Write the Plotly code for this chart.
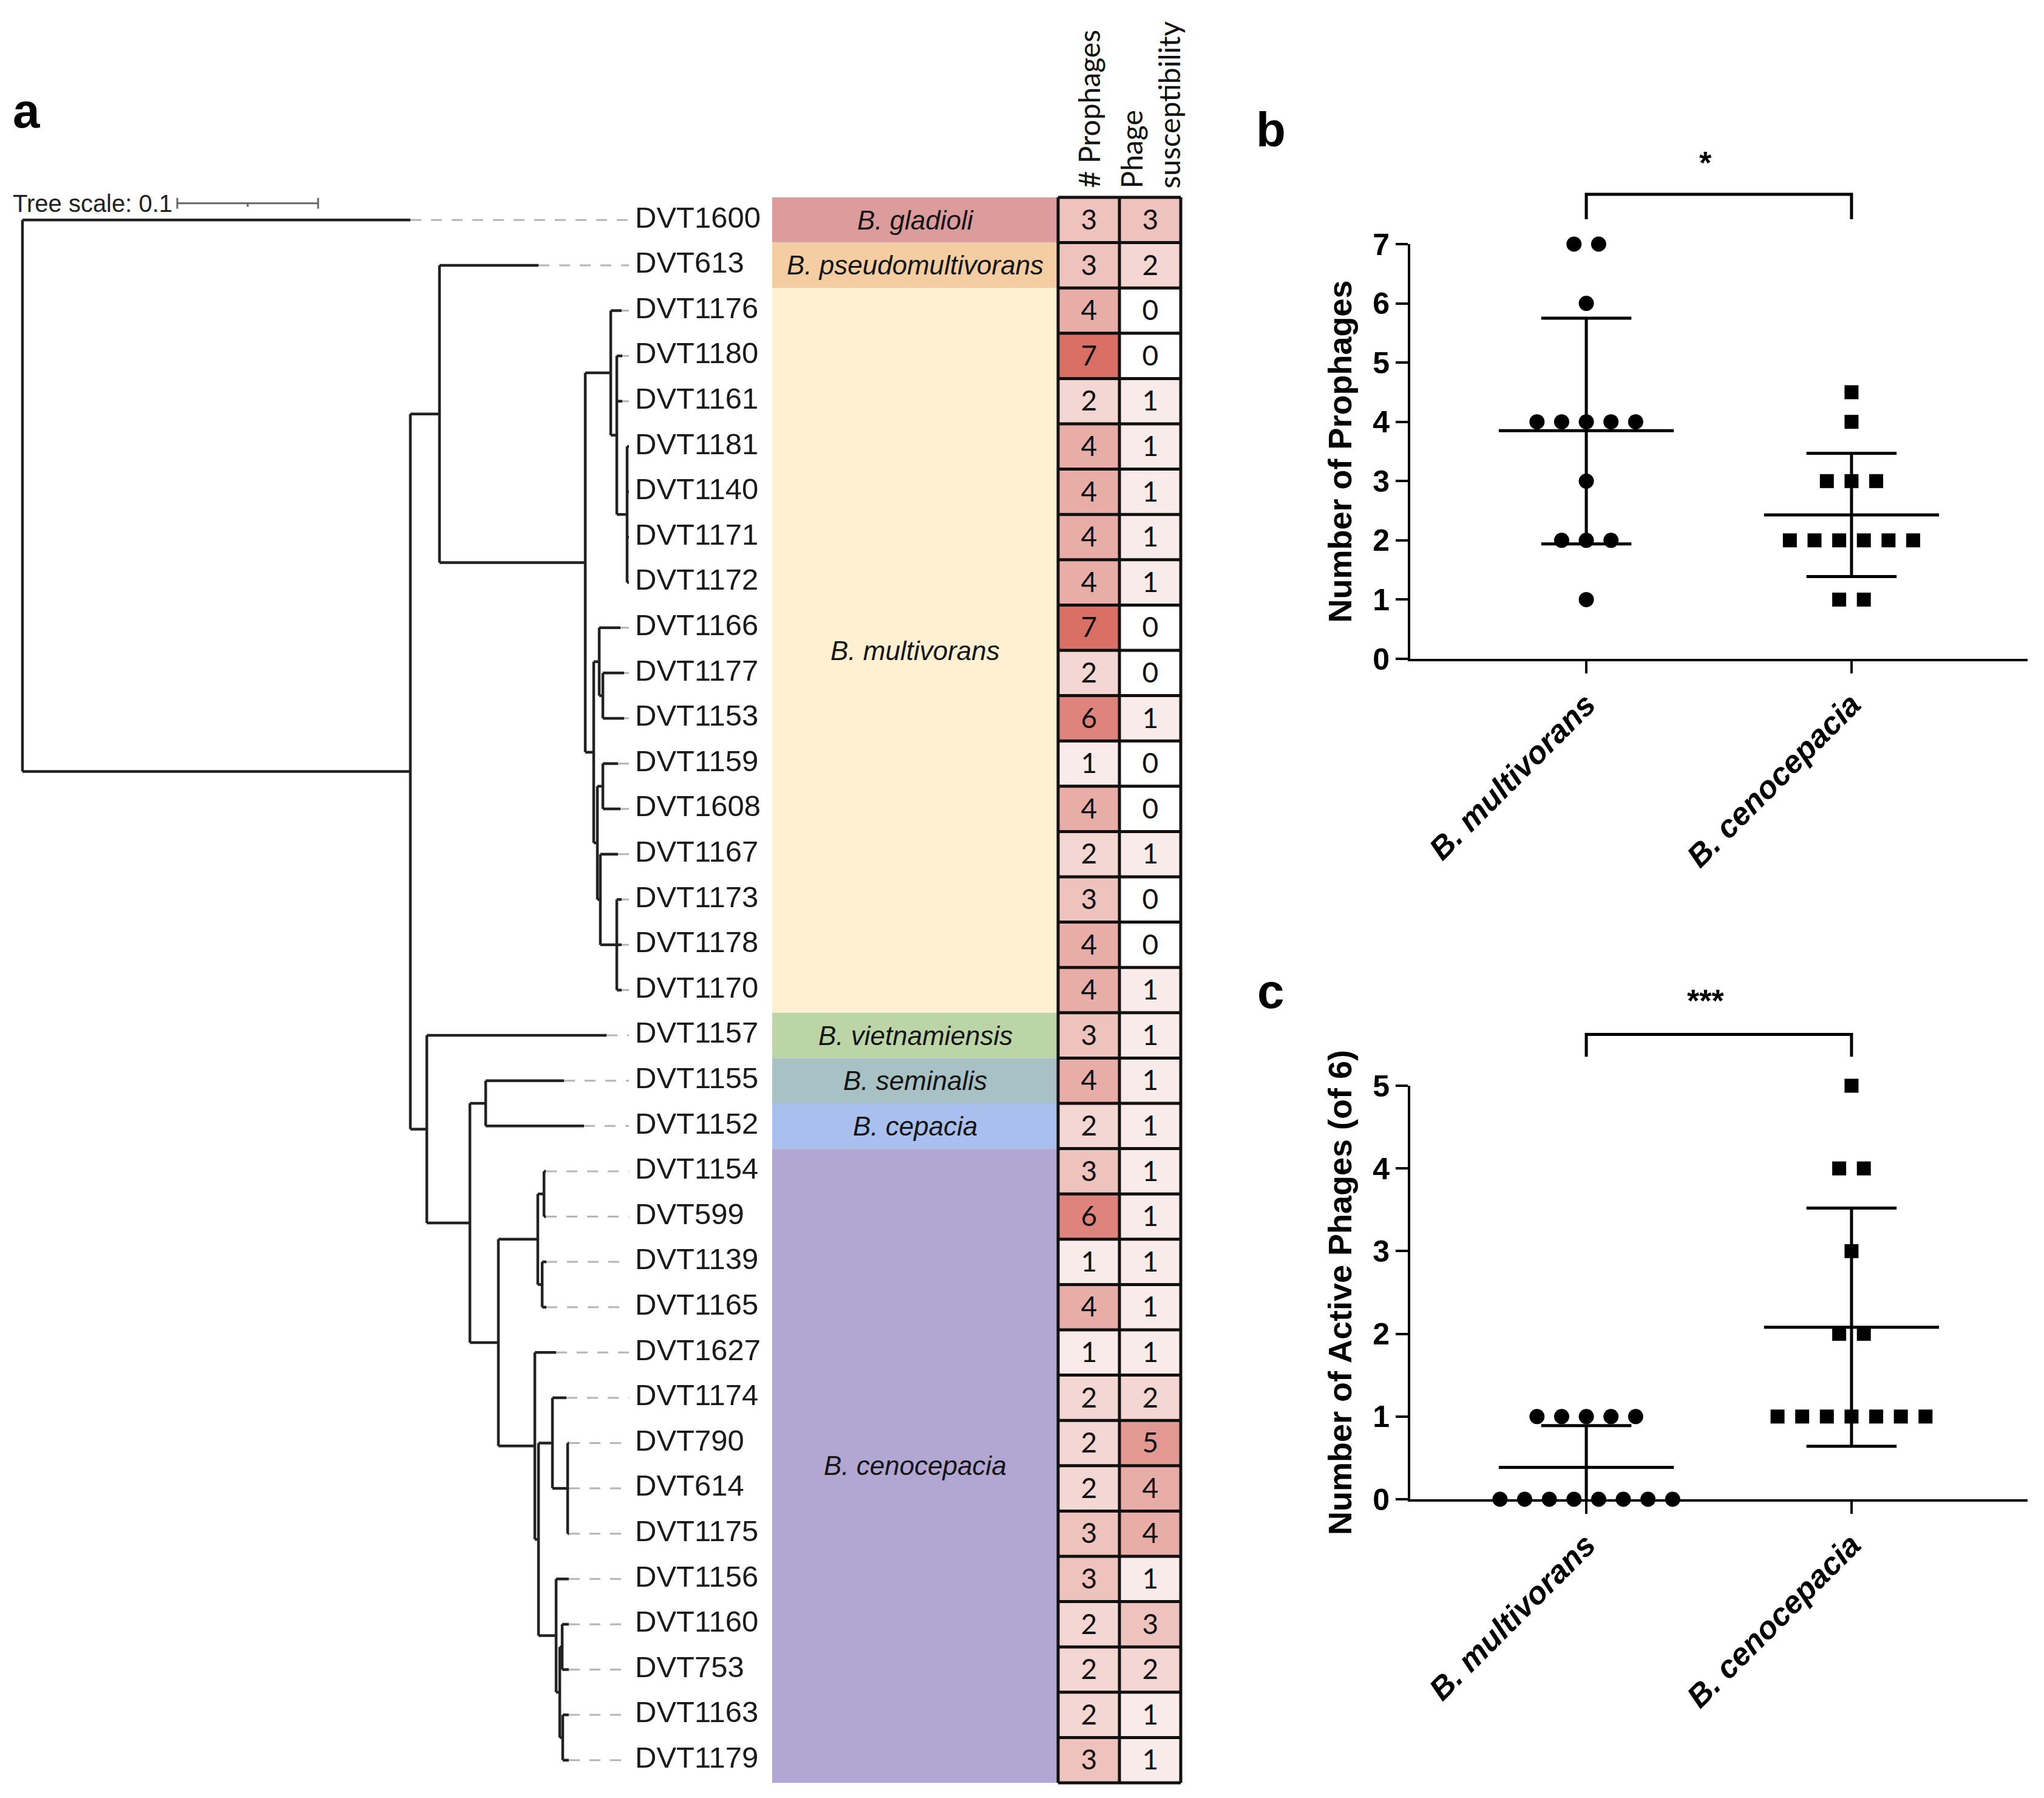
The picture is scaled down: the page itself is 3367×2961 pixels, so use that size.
import plotly.graph_objects as go

W, H = 3367, 2961

# ---------------- Panel a data ----------------
STRAINS = ["DVT1600", "DVT613", "DVT1176", "DVT1180", "DVT1161", "DVT1181", "DVT1140",
           "DVT1171", "DVT1172", "DVT1166", "DVT1177", "DVT1153", "DVT1159", "DVT1608",
           "DVT1167", "DVT1173", "DVT1178", "DVT1170", "DVT1157", "DVT1155", "DVT1152",
           "DVT1154", "DVT599", "DVT1139", "DVT1165", "DVT1627", "DVT1174", "DVT790",
           "DVT614", "DVT1175", "DVT1156", "DVT1160", "DVT753", "DVT1163", "DVT1179"]
PROPHAGES = [3, 3, 4, 7, 2, 4, 4, 4, 4, 7, 2, 6, 1, 4, 2, 3, 4, 4, 3, 4, 2,
             3, 6, 1, 4, 1, 2, 2, 2, 3, 3, 2, 2, 2, 3]
SUSCEPTIBILITY = [3, 2, 0, 0, 1, 1, 1, 1, 1, 0, 0, 1, 0, 0, 1, 0, 0, 1, 1, 1, 1,
                  1, 1, 1, 1, 1, 2, 5, 4, 4, 1, 3, 2, 1, 1]
SPECIES = ["B. gladioli", "B. pseudomultivorans", "B. multivorans", "B. vietnamiensis",
           "B. seminalis", "B. cepacia", "B. cenocepacia"]
SPECIES_SIZES = [1, 1, 16, 1, 1, 1, 14]
SPECIES_COLORS = ["#dc9c9c", "#f4cda2", "#fef0d1", "#bbd5a7", "#a7c1c4", "#a9c0ee", "#b1a7d2"]
HEAT_COLUMNS = ["# Prophages", "Phage<br>susceptibility"]
TREE_SCALE = 0.1
NEWICK = (
    "(DVT1600:0.2754,"
    "("
    "(DVT613:0.0703,"
    "("
    "(DVT1176:0.0077,(DVT1180:0.0039,DVT1161:0.0039,(DVT1181:0.0013,DVT1140:0.0013,"
    "DVT1171:0.0013,DVT1172:0.0013):0.0073):0.0043):0.0181,"
    "((DVT1166:0.0151,(DVT1177:0.0151,DVT1153:0.0151):0.0026):0.0039,"
    "((DVT1159:0.0107,DVT1608:0.0125):0.0039,(DVT1167:0.0125,(DVT1173:0.0034,"
    "DVT1178:0.0034,DVT1170:0.0034):0.0117):0.0021):0.0026):0.0060"
    "):0.1035"
    "):0.0207,"
    "(DVT1157:0.1276,"
    "((DVT1155:0.0556,DVT1152:0.0698):0.0112,"
    "("
    "((DVT1154:0.0013,DVT599:0.0013):0.0044,(DVT1139:0.0030,DVT1165:0.0030):0.0031):0.0280,"
    "(DVT1627:0.0151,((DVT1174:0.0099,(DVT790:0.0008,DVT614:0.0008,DVT1175:0.0008):0.0108):0.0099,"
    "(DVT1156:0.0090,((DVT1160:0.0047,DVT753:0.0047):0.0017,(DVT1163:0.0043,"
    "DVT1179:0.0043):0.0021):0.0026):0.0125):0.0026):0.0259"
    "):0.0202"
    "):0.0306"
    "):0.0117"
    "):0.2754);"
)

# ---------------- Panels b / c data ----------------
GROUPS = ["B. multivorans", "B. cenocepacia"]
PROPH_MULTI = [7, 7, 6, 4, 4, 4, 4, 4, 3, 2, 2, 2, 1]
PROPH_CENO = [4.5, 4, 3, 3, 3, 2, 2, 2, 2, 2, 2, 1, 1]
PROPH_MEAN = [3.85, 2.43]
PROPH_SD_LOW = [1.94, 1.39]
PROPH_SD_HIGH = [5.75, 3.47]
PROPH_BRACKET = [7.42, 7.84]
PROPH_SIG = "*"

ACTIVE_MULTI = [1, 1, 1, 1, 1, 0, 0, 0, 0, 0, 0, 0, 0]
ACTIVE_CENO = [5, 4, 4, 3, 2, 2, 1, 1, 1, 1, 1, 1, 1]
ACTIVE_MEAN = [0.385, 2.08]
ACTIVE_SD_LOW = [-0.12, 0.64]
ACTIVE_SD_HIGH = [0.89, 3.52]
ACTIVE_BRACKET = [5.35, 5.62]
ACTIVE_SIG = "***"

# ---------------- helpers ----------------
PAGE_OFFSET = 8  # default body margin of the html page


def px_x(p):
    return (p - PAGE_OFFSET) / W


def px_y(p):
    return 1 - (p - PAGE_OFFSET) / H


def parse_newick(s):
    pos = 0

    def node():
        nonlocal pos
        children = []
        name = ""
        if s[pos] == "(":
            pos += 1
            children.append(node())
            while s[pos] == ",":
                pos += 1
                children.append(node())
            assert s[pos] == ")"
            pos += 1
        else:
            start = pos
            while s[pos] not in ":,);":
                pos += 1
            name = s[start:pos]
        length = 0.0
        if s[pos] == ":":
            pos += 1
            start = pos
            while s[pos] not in ",);":
                pos += 1
            length = float(s[start:pos])
        return {"name": name, "len": length, "children": children}

    return node()


tree = parse_newick(NEWICK)
leaf_order = []


def layout(nd, depth):
    nd["x"] = depth + nd["len"]
    if not nd["children"]:
        nd["y"] = len(leaf_order)
        leaf_order.append(nd)
    else:
        for c in nd["children"]:
            layout(c, nd["x"])
        nd["y"] = (nd["children"][0]["y"] + nd["children"][-1]["y"]) / 2


layout(tree, 0.0)
assert [l["name"] for l in leaf_order] == STRAINS

bx, by = [], []


def branches(nd):
    if nd["children"]:
        ch = nd["children"]
        bx.extend([nd["x"], nd["x"], None])
        by.extend([ch[0]["y"], ch[-1]["y"], None])
        for c in ch:
            bx.extend([nd["x"], c["x"], None])
            by.extend([c["y"], c["y"], None])
            branches(c)


branches(tree)

# pixel geometry of panel a
TREE_LEFT_PX = PAGE_OFFSET
TREE_ROOT_PX = 37
TREE_PX_PER_UNIT = 2320
TREE_RIGHT_PX = 1272
STRIP_X0, STRIP_X1 = 1272, 1743
ROW_TOP, ROW_H = 325, 74.6
N = len(STRAINS)
ALIGN_DEPTH = (1036 - TREE_ROOT_PX) / TREE_PX_PER_UNIT
LABEL_DEPTH = (1046 - TREE_ROOT_PX) / TREE_PX_PER_UNIT
SCALE_START = (292 - TREE_ROOT_PX) / TREE_PX_PER_UNIT
SCALE_ROW = -0.37

lx, ly = [], []
for l in leaf_order:
    if l["x"] < ALIGN_DEPTH - 0.001:
        lx.extend([l["x"], ALIGN_DEPTH, None])
        ly.extend([l["y"], l["y"], None])

fig = go.Figure()

# tree
fig.add_trace(go.Scatter(x=lx, y=ly, mode="lines", xaxis="x", yaxis="y",
                         line=dict(color="#b5b5b5", width=3, dash="18px,16px"), hoverinfo="skip"))
fig.add_trace(go.Scatter(x=bx, y=by, mode="lines", xaxis="x", yaxis="y",
                         line=dict(color="#222222", width=4.5), hoverinfo="skip"))
fig.add_trace(go.Scatter(x=[LABEL_DEPTH] * N, y=[l["y"] for l in leaf_order],
                         text=STRAINS, mode="text", textposition="middle right",
                         textfont=dict(family="Liberation Sans", size=49, color="#1a1a1a"),
                         xaxis="x", yaxis="y", hoverinfo="skip", cliponaxis=False))
# tree scale bar
sx = [SCALE_START, SCALE_START + TREE_SCALE, None,
      SCALE_START, SCALE_START, None,
      SCALE_START + TREE_SCALE, SCALE_START + TREE_SCALE, None,
      SCALE_START + TREE_SCALE / 2, SCALE_START + TREE_SCALE / 2]
sy = [SCALE_ROW, SCALE_ROW, None,
      SCALE_ROW - 0.12, SCALE_ROW + 0.12, None,
      SCALE_ROW - 0.12, SCALE_ROW + 0.12, None,
      SCALE_ROW, SCALE_ROW + 0.08]
fig.add_trace(go.Scatter(x=sx, y=sy, mode="lines", xaxis="x", yaxis="y",
                         line=dict(color="#666666", width=3), hoverinfo="skip"))

# heatmap
fig.add_trace(go.Heatmap(
    z=[[p, s] for p, s in zip(PROPHAGES, SUSCEPTIBILITY)],
    x=[0, 1], y=list(range(N)), xaxis="x2", yaxis="y2",
    colorscale=[[0, "#ffffff"], [1, "#d87066"]], zmin=0, zmax=7, showscale=False,
    texttemplate="%{z}", textfont=dict(family="Lato", size=46, color="#111111"),
    hoverinfo="skip"))
gx, gy = [], []
for k in range(N + 1):
    gx.extend([-0.5, 1.5, None])
    gy.extend([k - 0.5, k - 0.5, None])
for c in range(3):
    gx.extend([c - 0.5, c - 0.5, None])
    gy.extend([-0.5, N - 0.5, None])
fig.add_trace(go.Scatter(x=gx, y=gy, mode="lines", xaxis="x2", yaxis="y2",
                         line=dict(color="#111111", width=5), hoverinfo="skip"))

shapes = []
annotations = []
start = 0
for name, size, col in zip(SPECIES, SPECIES_SIZES, SPECIES_COLORS):
    shapes.append(dict(type="rect", xref="paper", yref="y", x0=px_x(STRIP_X0), x1=px_x(STRIP_X1),
                       y0=start - 0.5, y1=start + size - 0.5, fillcolor=col,
                       line=dict(width=0), layer="below"))
    annotations.append(dict(xref="paper", yref="y", x=px_x((STRIP_X0 + STRIP_X1) / 2),
                            y=start + (size - 1) / 2, text="<i>%s</i>" % name, showarrow=False,
                            xanchor="center", yanchor="middle",
                            font=dict(family="Liberation Sans", size=44, color="#151515")))
    start += size

COL_CENTERS_PX = [1793.5, 1894.5]
for cx, label in zip(COL_CENTERS_PX, HEAT_COLUMNS):
    annotations.append(dict(xref="paper", yref="paper", x=px_x(cx), y=px_y(312),
                            xanchor="center", yanchor="bottom", textangle=-90, align="left",
                            text=label, showarrow=False,
                            font=dict(family="Lato", size=48, color="#111111")))

annotations.append(dict(xref="x", yref="y", x=SCALE_START, y=SCALE_ROW, xanchor="right",
                        yanchor="middle", xshift=-6, text="Tree scale: 0.1", showarrow=False,
                        font=dict(family="Liberation Sans", size=40, color="#222222")))

for lab, (px, py) in zip(["a", "b", "c"], [(43, 183), (2093, 214), (2093, 1632)]):
    annotations.append(dict(xref="paper", yref="paper", x=px_x(px), y=px_y(py), text=lab,
                            xanchor="center", yanchor="middle", showarrow=False,
                            font=dict(family="Liberation Sans", size=80,
                                      color="black", weight="bold")))


# ---------------- panels b and c ----------------
def swarm(values, center, step=0.093):
    counts = {}
    for v in values:
        counts[v] = counts.get(v, 0) + 1
    seen = {}
    xs = []
    for v in values:
        k = seen.get(v, 0)
        seen[v] = k + 1
        xs.append(center + (k - (counts[v] - 1) / 2) * step)
    return xs


def summary(means, lows, highs):
    xs, ys = [], []
    for i, (m, lo, hi) in enumerate(zip(means, lows, highs)):
        xs += [i - 0.33, i + 0.33, None, i, i, None]
        ys += [m, m, None, lo, hi, None]
        for v in (lo, hi):
            xs += [i - 0.17, i + 0.17, None]
            ys += [v, v, None]
    return xs, ys


panels = [
    dict(xa="x3", ya="y3", yb="y5", multi=PROPH_MULTI, ceno=PROPH_CENO, mean=PROPH_MEAN,
         lo=PROPH_SD_LOW, hi=PROPH_SD_HIGH, br=PROPH_BRACKET, sig=PROPH_SIG, sig_y=8.37),
    dict(xa="x4", ya="y4", yb="y6", multi=ACTIVE_MULTI, ceno=ACTIVE_CENO, mean=ACTIVE_MEAN,
         lo=ACTIVE_SD_LOW, hi=ACTIVE_SD_HIGH, br=ACTIVE_BRACKET, sig=ACTIVE_SIG, sig_y=6.03),
]
for p in panels:
    ex, ey = summary(p["mean"], p["lo"], p["hi"])
    fig.add_trace(go.Scatter(x=ex, y=ey, mode="lines", xaxis=p["xa"], yaxis=p["ya"],
                             line=dict(color="black", width=5), hoverinfo="skip"))
    fig.add_trace(go.Scatter(x=swarm(p["multi"], 0), y=p["multi"], mode="markers",
                             xaxis=p["xa"], yaxis=p["ya"], cliponaxis=False,
                             marker=dict(symbol="circle", size=25, color="black"), hoverinfo="skip"))
    fig.add_trace(go.Scatter(x=swarm(p["ceno"], 1), y=p["ceno"], mode="markers",
                             xaxis=p["xa"], yaxis=p["ya"], cliponaxis=False,
                             marker=dict(symbol="square", size=23, color="black"), hoverinfo="skip"))
    fig.add_trace(go.Scatter(x=[0, 0, 1, 1], y=[p["br"][0], p["br"][1], p["br"][1], p["br"][0]],
                             mode="lines", xaxis=p["xa"], yaxis=p["yb"],
                             line=dict(color="black", width=5), hoverinfo="skip"))
    annotations.append(dict(xref=p["xa"], yref=p["yb"], x=0.45, y=p["sig_y"], text=p["sig"],
                            xanchor="center", yanchor="middle", showarrow=False,
                            font=dict(family="Liberation Sans", size=52, color="black",
                                      weight="bold")))

X_RANGE = [-0.664, 1.664]
PB_X0, PB_X1 = 2323, 3340
B_Y0, B_Y7 = 1085, 402
B_TOP = 216
C_Y0, C_Y5 = 2469, 1788
C_TOP = 1575
b_unit = (B_Y0 - B_Y7) / 7
c_unit = (C_Y0 - C_Y5) / 5

cat_text = ["<b><i>%s</i></b>" % g for g in GROUPS]
xcommon = dict(range=X_RANGE, tickvals=[0, 1], ticktext=cat_text, tickangle=-45,
               ticks="outside", ticklen=20, tickwidth=4, tickcolor="black",
               showline=True, linewidth=4, linecolor="black", showgrid=False, zeroline=False,
               automargin=False,
               tickfont=dict(family="Liberation Sans", size=52, color="black"),
               domain=[px_x(PB_X0), px_x(PB_X1)])
ycommon = dict(ticks="outside", ticklen=20, tickwidth=4, tickcolor="black",
               showline=True, linewidth=4, linecolor="black", showgrid=False, zeroline=False,
               automargin=False,
               tickfont=dict(family="Liberation Sans", size=50, color="black", weight="bold"))
hidden = dict(visible=False, automargin=False, showgrid=False, zeroline=False)

fig.update_layout(
    template="none",
    width=W, height=H, margin=dict(l=0, r=0, t=0, b=0, pad=0, autoexpand=False),
    autosize=False,
    paper_bgcolor="white", plot_bgcolor="rgba(0,0,0,0)", showlegend=False,
    font=dict(family="Liberation Sans", color="black"),
    xaxis=dict(domain=[px_x(TREE_LEFT_PX), px_x(TREE_RIGHT_PX)],
               range=[(TREE_LEFT_PX - TREE_ROOT_PX) / TREE_PX_PER_UNIT,
                      (TREE_RIGHT_PX - TREE_ROOT_PX) / TREE_PX_PER_UNIT],
               anchor="y", **hidden),
    yaxis=dict(domain=[px_y(ROW_TOP + N * ROW_H), px_y(ROW_TOP)], range=[N - 0.5, -0.5],
               anchor="x", **hidden),
    xaxis2=dict(domain=[px_x(COL_CENTERS_PX[0] - 0.55 * 101), px_x(COL_CENTERS_PX[1] + 0.55 * 101)],
                range=[-0.55, 1.55], anchor="y2", **hidden),
    yaxis2=dict(domain=[px_y(ROW_TOP + (N + 0.05) * ROW_H), px_y(ROW_TOP - 0.05 * ROW_H)],
                range=[N - 0.45, -0.55], anchor="x2", **hidden),
    xaxis3=dict(anchor="y3", **xcommon),
    yaxis3=dict(anchor="x3", domain=[px_y(B_Y0), px_y(B_Y7)], range=[0, 7],
                tickvals=list(range(8)),
                title=dict(text="Number of Prophages", standoff=18,
                           font=dict(family="Liberation Sans", size=54, color="black",
                                     weight="bold")),
                **ycommon),
    yaxis5=dict(anchor="x3", domain=[px_y(B_Y7), px_y(B_TOP)],
                range=[7, 7 + (B_Y7 - B_TOP) / b_unit], **hidden),
    xaxis4=dict(anchor="y4", **xcommon),
    yaxis4=dict(anchor="x4", domain=[px_y(C_Y0), px_y(C_Y5)], range=[0, 5],
                tickvals=list(range(6)),
                title=dict(text="Number of Active Phages (of 6)", standoff=18,
                           font=dict(family="Liberation Sans", size=54, color="black",
                                     weight="bold")),
                **ycommon),
    yaxis6=dict(anchor="x4", domain=[px_y(C_Y5), px_y(C_TOP)],
                range=[5, 5 + (C_Y5 - C_TOP) / c_unit], **hidden),
    shapes=shapes, annotations=annotations,
)

fig.write_html("out.html")
